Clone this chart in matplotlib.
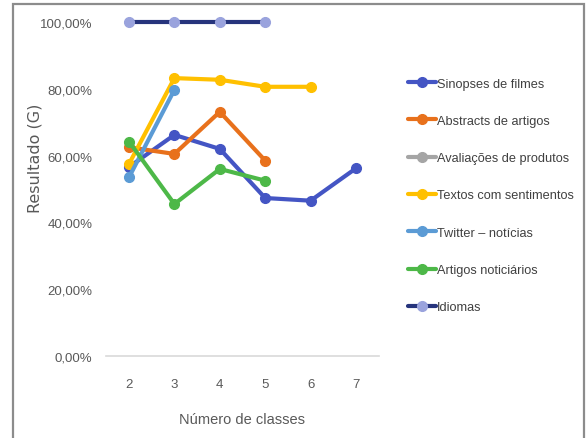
import numpy as np
import matplotlib
matplotlib.use("Agg")
import matplotlib.pyplot as plt
from matplotlib.patches import Rectangle
from matplotlib.ticker import FuncFormatter

classes = [2, 3, 4, 5, 6, 7]

sinopses = [0.566, 0.662, 0.620, 0.473, 0.465, 0.562]
abstracts = [0.625, 0.605, 0.731, 0.585, np.nan, np.nan]
avaliacoes = [np.nan, np.nan, np.nan, np.nan, np.nan, np.nan]
textos = [0.575, 0.832, 0.827, 0.806, 0.806, np.nan]
twitter = [0.535, 0.797, np.nan, np.nan, np.nan, np.nan]
artigos = [0.642, 0.455, 0.560, 0.525, np.nan, np.nan]
idiomas = [1.0, 1.0, 1.0, 1.0, np.nan, np.nan]

series = [
    ("Sinopses de filmes", sinopses, "#4455C4", "#4455C4"),
    ("Abstracts de artigos", abstracts, "#E8711C", "#E8711C"),
    ("Avaliações de produtos", avaliacoes, "#A5A5A5", "#A5A5A5"),
    ("Textos com sentimentos", textos, "#FFC000", "#FFC000"),
    ("Twitter – notícias", twitter, "#5B9BD5", "#5B9BD5"),
    ("Artigos noticiários", artigos, "#4DB848", "#4DB848"),
    ("Idiomas", idiomas, "#26347C", "#9AA3DD"),
]

plt.rcParams['font.family'] = ['Liberation Sans', 'DejaVu Sans']

W, H = 588, 439
fig = plt.figure(figsize=(W / 100, H / 100), dpi=100)

# outer frame (open at the bottom)
fig.patches.append(Rectangle((13 / W, -0.05), (584 - 13) / W, 1.05 - 5 / H,
                             transform=fig.transFigure, fill=False,
                             edgecolor="#8C8C8C", linewidth=1.6))

ax = fig.add_axes([106.3 / W, 1 - 357 / H, (378.7 - 106.3) / W, (357 - 23) / H])
handles = []
for name, vals, lc, mc in series:
    h, = ax.plot(classes, vals, color=lc, linewidth=3, marker="o", markersize=7,
                 markerfacecolor=mc, markeredgecolor=mc, label=name, clip_on=False,
                 solid_capstyle="round")
    handles.append(h)

ax.set_xlim(1.5, 7.5)
ax.set_ylim(0, 1.0)
ax.set_xticks(classes)
ax.set_yticks(np.arange(0, 1.01, 0.2))
ax.yaxis.set_major_formatter(FuncFormatter(lambda v, p: f"{v*100:.2f}%".replace(".", ",")))
for s in ["top", "right", "left"]:
    ax.spines[s].set_visible(False)
ax.spines["bottom"].set_color("#D9D9D9")
ax.spines["bottom"].set_linewidth(1.2)
ax.tick_params(axis="both", length=0, labelsize=9.5, colors="#595959")
ax.tick_params(axis="x", pad=16)
ax.tick_params(axis="y", pad=10)

ax.set_xlabel("Número de classes", fontsize=10.5, color="#595959", labelpad=16)
fig.text(35 / W, 1 - 158 / H, "Resultado (G)", rotation=90, ha="center", va="center",
         fontsize=11.5, color="#595959", family=["DejaVu Sans"])

leg = fig.legend(handles=handles, loc="upper left", bbox_to_anchor=(396 / W, 1 - 67 / H),
                 frameon=False, fontsize=9.2, labelcolor="#404040", handlelength=2.2,
                 handletextpad=0.1, labelspacing=1.98)

fig.savefig("out.png", dpi=100)
